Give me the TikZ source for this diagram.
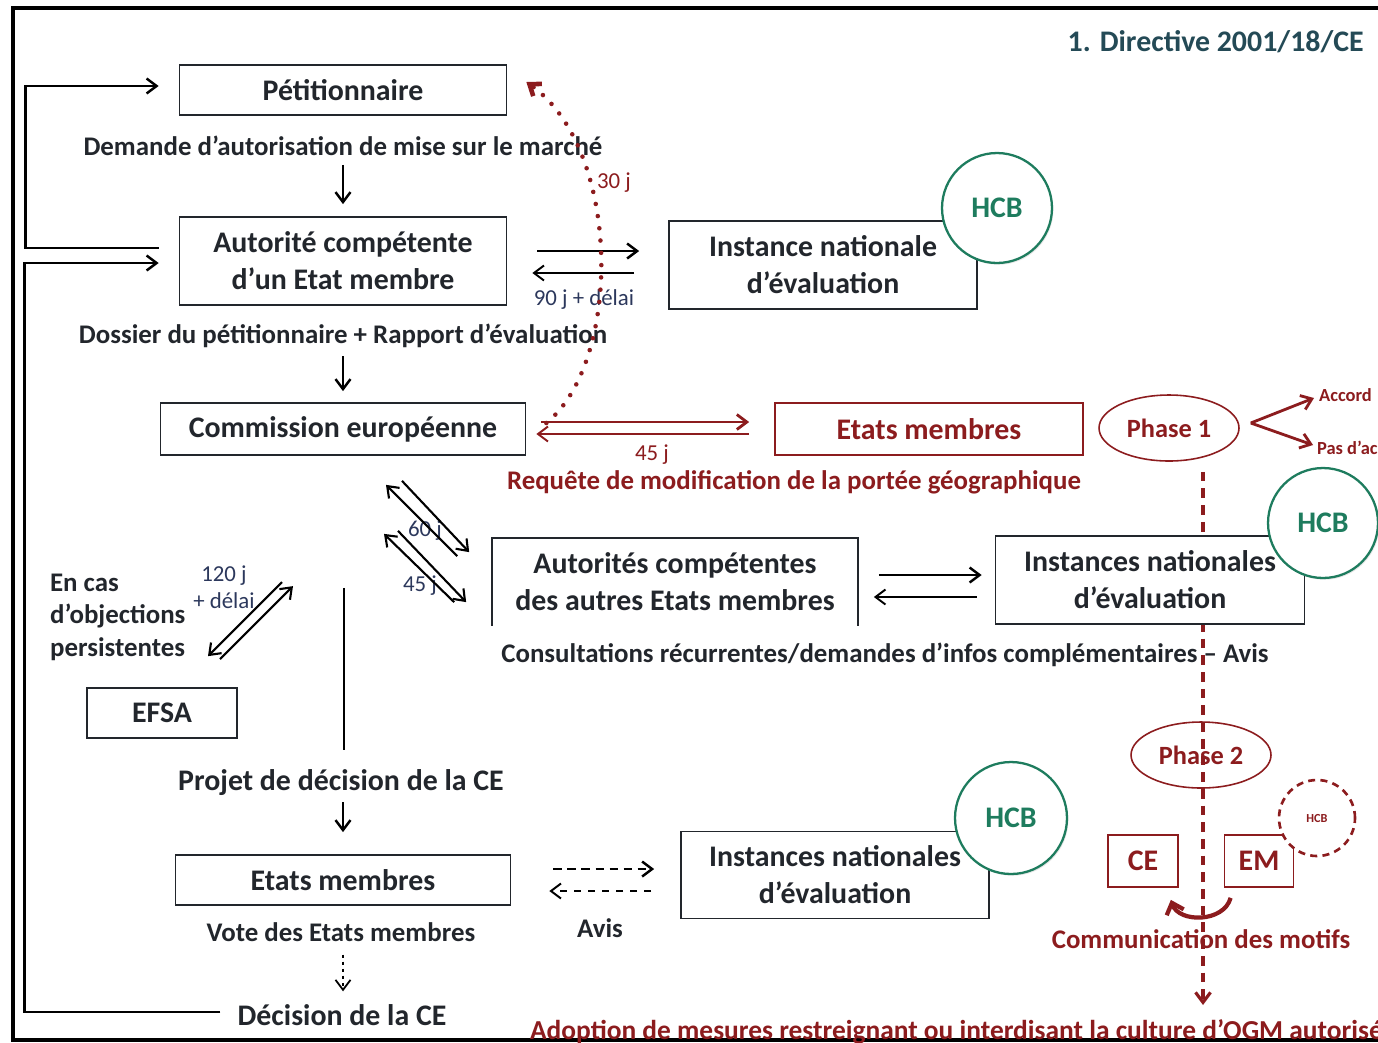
\documentclass[tikz,border=0pt]{standalone}
\usepackage{fontspec}
\setmainfont{Carlito}
\usepackage{tikz}
\usetikzlibrary{calc, arrows.meta, shapes.geometric, shadows}
\definecolor{ink}{RGB}{34,38,44}
\definecolor{titleink}{RGB}{36,74,86}
\definecolor{daynote}{RGB}{44,56,92}
\definecolor{rouge}{RGB}{140,28,30}
\definecolor{vert}{RGB}{30,124,94}

\begin{document}
\begin{tikzpicture}[x=0.02cm, y=-0.02cm,
    box/.style={draw=ink, line width=1pt, fill=white, text=ink, font=\fontsize{17}{21}\selectfont\bfseries, align=center, inner sep=0pt},
    rbox/.style={box, draw=rouge, text=rouge},
    lbl/.style={text=ink, font=\fontsize{15.3}{18}\selectfont\bfseries, align=center, inner sep=1pt},
    rlbl/.style={lbl, text=rouge},
    days/.style={text=daynote, font=\fontsize{13}{15.5}\selectfont, align=center, inner sep=1pt},
    hcb/.style={circle, draw=vert, line width=1.3pt, fill=white, text=vert, font=\fontsize{17}{20}\selectfont\bfseries, minimum size=2.2cm, inner sep=0pt, drop shadow={opacity=0.2, shadow xshift=0.8pt, shadow yshift=-1pt}},
    phase/.style={ellipse, draw=rouge, line width=0.9pt, text=rouge, font=\fontsize{15}{18}\selectfont\bfseries, minimum width=2.8cm, minimum height=1.32cm, inner sep=0pt},
    arr/.style={draw=black, line width=1.4pt, -{Straight Barb[length=2mm, width=3mm]}},
    rarr/.style={draw=rouge, line width=1.3pt, -{Straight Barb[length=2mm, width=3mm]}}
]
    % Page size and outer frame
    \useasboundingbox (0,0) rectangle (1378,1042);
    \draw[line width=2.3pt] (13,8) rectangle (1420,1040);

    % Red dashed line of the phases (behind the boxes)
    \node[phase] (ph1) at (1169,428) {Phase 1};
    \node[phase] (ph2) at (1201,755) {Phase 2};
    \coordinate (dtop) at ($(ph1.south -| ph2.center)+(2,10)$);
    \coordinate (dbot) at ($(ph2.center)+(2,250)$);
    \draw[rarr, line width=1.8pt, dash pattern=on 5.5pt off 4pt] (dtop) -- (dbot);

    % Main column
    \node[box, minimum width=6.54cm, minimum height=1cm] (pet) at (343,90) {Pétitionnaire};
    \node[lbl] (demande) at (343,146) {Demande d’autorisation de mise sur le marché};
    \node[box, minimum width=6.54cm, minimum height=1.76cm] (aut) at (343,261) {Autorité compétente\\d’un Etat membre};
    \node[lbl] (dossier) at (343,336) {Dossier du pétitionnaire + Rapport d’évaluation};
    \node[box, minimum width=7.3cm, minimum height=1.04cm] (com) at (343,429) {Commission européenne};
    \node[lbl, font=\fontsize{17}{20}\selectfont\bfseries] (projet) at (341,783) {Projet de décision de la CE};
    \node[box, minimum width=6.7cm, minimum height=1cm] (emb) at (343,880) {Etats membres};
    \node[lbl] (vote) at (341,932) {Vote des Etats membres};
    \node[lbl, font=\fontsize{17}{20}\selectfont\bfseries] (decision) at (342,1015) {Décision de la CE};

    % Other boxes
    \node[box, minimum width=6.16cm, minimum height=1.76cm] (inst) at (823,265) {Instance nationale\\d’évaluation};
    \node[rbox, minimum width=6.16cm, minimum height=1.04cm] (emr) at (929,429) {Etats membres};
    \node[box, draw=none, minimum width=7.28cm, minimum height=1.72cm] (autres) at (675,582) {Autorités compétentes\\des autres Etats membres};
    \draw[ink, line width=1pt] (autres.south west) -- (autres.north west) -- (autres.north east) -- (autres.south east);
    \node[box, minimum width=6.18cm, minimum height=1.76cm] (instb) at (1150,580) {Instances nationales\\d’évaluation};
    \node[box, minimum width=3cm, minimum height=1cm] (efsa) at (162,713) {EFSA};
    \node[box, minimum width=6.16cm, minimum height=1.74cm] (instc) at (835,875) {Instances nationales\\d’évaluation};
    \node[rbox, minimum width=1.4cm, minimum height=1.04cm] (ce) at (1143,861) {CE};
    \node[rbox, minimum width=1.38cm, minimum height=1.04cm] (em) at (1259,861) {EM};

    % HCB circles
    \node[hcb] (hcba) at (997,208) {HCB};
    \node[hcb] (hcbb) at (1323,523) {HCB};
    \node[hcb, minimum size=2.24cm] (hcbc) at (1011,818) {HCB};
    \node[circle, draw=rouge, fill=white, line width=1.5pt, dash pattern=on 4pt off 3pt, minimum size=1.52cm, text=rouge, font=\fontsize{7}{8}\selectfont\bfseries] (hcbd) at (1317,818) {HCB};

    % Labels
    \node[text=titleink, font=\fontsize{17}{20}\selectfont\bfseries, anchor=east] (titre) at (1370,42) {1. Directive 2001/18/CE};
    \node[rlbl] (requete) at (794,482) {Requête de modification de la portée géographique};
    \node[lbl] (consult) at (885,655) {Consultations récurrentes/demandes d’infos complémentaires – Avis};
    \node[lbl, align=left, anchor=west, font=\fontsize{15.3}{18.5}\selectfont\bfseries] (encas) at (48,617) {En cas\\d’objections\\persistentes};
    \node[lbl] (avis) at (600,928) {Avis};
    \node[rlbl] (motifs) at (1201,939) {Communication des motifs};
    \node[rlbl, anchor=base west, font=\fontsize{15.6}{18}\selectfont\bfseries] (adoption) at (528,1039) {\underline{Adoption de mesures restreignant ou interdisant la culture d’OGM autorisée}};
    \node[rlbl, anchor=west, font=\fontsize{10.5}{12}\selectfont\bfseries] (accord) at (1317,395) {Accord};
    \node[rlbl, anchor=west, font=\fontsize{10.5}{12}\selectfont\bfseries] (pasdac) at (1315,448) {Pas d’accord};

    % Delays
    \node[days, text=rouge] (j30) at (614,183) {30 j};
    \node[days] (j90) at (584,300) {90 j + délai};
    \node[days, text=rouge] (j45r) at (652,455) {45 j};
    \node[days] (j60) at (425,531) {60 j};
    \node[days] (j45) at (420,586) {45 j};
    \node[days] (j120) at (224,587) {120 j\\+ délai};

    % Arrows of the main column
    \draw[arr] ($(demande.south)+(0,7)$) -- ($(aut.north)+(0,-12)$);
    \draw[arr] ($(dossier.south)+(0,6)$) -- ($(com.north)+(0,-11)$);
    \draw[line width=1.4pt] ($(com.south)+(1,132)$) -- ($(projet.north)+(3,-18)$);
    \draw[arr] ($(projet.south)+(2,4)$) -- ($(emb.north)+(0,-22)$);
    \draw[arr, line width=1pt, dash pattern=on 2pt off 2pt] ($(vote.south)+(2,11)$) -- ($(decision.north)+(1,-11)$);

    % Feedback loops on the left
    \coordinate (fbA) at ($(aut.west)+(-20,-13)$);
    \coordinate (fbB) at ($(decision.west)+(-15,-3)$);
    \draw[arr] (fbA) -- ($(fbA)+(-133,0)$) |- ($(pet.west)+(-20,-4)$);
    \draw[arr] (fbB) -- ($(fbB)+(-196,0)$) |- ($(aut.west)+(-20,2)$);

    % Exchanges with the national bodies
    \draw[arr] ($(aut.east)+(30,-10)$) -- ($(aut.east -| inst.west)+(-29,-10)$);
    \draw[arr, line width=1.1pt] ($(aut.east -| inst.west)+(-34,12)$) -- ($(aut.east)+(25,12)$);
    \draw[arr] ($(autres.east)+(21,-7)$) -- ($(autres.east -| instb.west)+(-13,-7)$);
    \draw[arr, line width=1.1pt] ($(autres.east -| instb.west)+(-18,15)$) -- ($(autres.east)+(16,15)$);
    \draw[arr, dash pattern=on 5pt off 3pt] ($(emb.east)+(42,-11)$) -- ($(emb.east -| instc.west)+(-26,-11)$);
    \draw[arr, line width=1.1pt, dash pattern=on 4pt off 4pt] ($(emb.east -| instc.west)+(-29,11)$) -- ($(emb.east)+(38,11)$);

    % Diagonal exchanges
    \draw[arr, line width=1.2pt] ($(autres.north west)+(-35,18)$) -- ($(com.south)+(43,29)$);
    \draw[arr, line width=1.2pt] ($(com.south)+(59,25)$) -- ($(autres.north west)+(-23,14)$);
    \draw[arr, line width=1.2pt] ($(autres.north west)+(-38,64)$) -- ($(com.south)+(41,78)$);
    \draw[arr, line width=1.2pt] ($(com.south)+(55,75)$) -- ($(autres.north west)+(-26,64)$);
    \draw[arr, line width=1.2pt] ($(efsa.north)+(58,-28)$) -- ($(efsa.north)+(131,-101)$);
    \draw[arr, line width=1.2pt] ($(efsa.north)+(120,-105)$) -- ($(efsa.north)+(46,-31)$);

    % Red exchanges
    \draw[rarr, line width=1.6pt] ($(com.east)+(15,-7)$) -- ($(emr.west)+(-25,-7)$);
    \draw[rarr, line width=1.1pt] ($(emr.west)+(-25,5)$) -- ($(com.east)+(10,5)$);
    \draw[rarr, line width=2.6pt, dash pattern=on 0pt off 7pt, line cap=round] ($(com.east)+(20,-6)$) .. controls (622,362) and (622,150) .. ($(pet.east)+(19,-8)$);
    \draw[rarr, line width=1.6pt] ($(ph1.east)+(11,-5)$) -- ($(accord.west)+(-3,3)$);
    \draw[rarr, line width=1.6pt] ($(ph1.east)+(11,-5)$) -- ($(pasdac.west)+(-2,-3)$);
    \draw[rarr, line width=2.4pt, -{Straight Barb[length=2mm, width=3.6mm]}] ($(em.south west)+(7,10)$) .. controls ($(em.south west)+(0,35)$) and ($(ce.south east)+(0,35)$) .. ($(ce.south east)+(-8,12)$);
\end{tikzpicture}
\end{document}
